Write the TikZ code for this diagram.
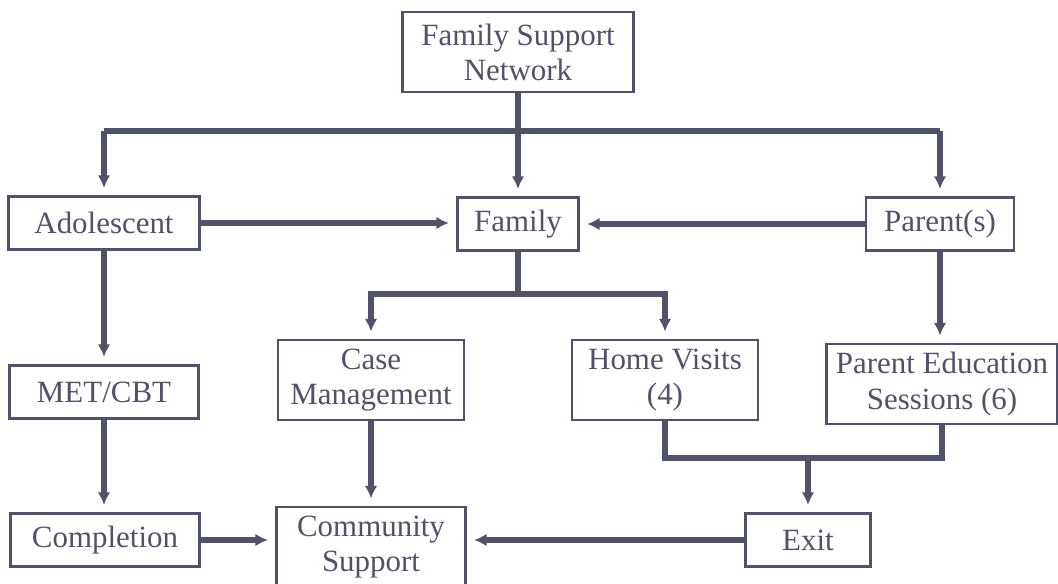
\documentclass[tikz,border=0pt]{standalone}
\usepackage{fontspec}
\setmainfont{Liberation Serif}
\usepackage{tikz}
\usetikzlibrary{arrows.meta, positioning}
\definecolor{ink}{RGB}{80,82,105}
\tikzstyle{staterect}=[shape=rectangle,draw=ink,line width=2pt,fill=white,text=ink,align=center,inner sep=4pt,font=\fontsize{22}{25}\selectfont]
\tikzstyle{onebox}=[staterect,minimum height=1.33cm]
\tikzstyle{twobox}=[staterect,minimum height=2cm]
\tikzstyle{mainline}=[draw=ink,line width=4pt]
\tikzstyle{mainedge}=[mainline,-{Latex[length=9pt,width=9pt]},shorten >=5pt]

\begin{document}
\begin{tikzpicture}
\useasboundingbox (0,0) rectangle (26.45,-14.575);
% top
\node[twobox,minimum width=5.78cm] (net) at (12.95,-1.3) {Family Support\\Network};
% 2nd row
\node[onebox,minimum width=4.78cm] (adol) at (2.6,-5.575) {Adolescent};
\node[onebox,minimum width=3.03cm] (fam) at (12.95,-5.6) {Family};
\node[onebox,minimum width=3.7cm] (par) at (23.5,-5.6) {Parent(s)};
% 3rd row
\node[onebox,minimum width=4.73cm] (met) at (2.6,-9.8) {MET/CBT};
\node[twobox,minimum width=4.65cm] (case) at (9.275,-9.5) {Case\\Management};
\node[twobox,minimum width=4.65cm] (home) at (16.625,-9.5) {Home Visits\\(4)};
\node[twobox,minimum width=5.78cm,inner sep=2pt] (pes) at (23.55,-9.6) {Parent Education\\Sessions (6)};
% bottom row
\node[onebox,minimum width=4.73cm] (comp) at (2.625,-13.5) {Completion};
\node[twobox,minimum width=4.73cm] (comm) at (9.275,-13.675) {Community\\Support};
\node[onebox,minimum width=3.13cm] (exit) at (20.2,-13.5) {Exit};

% connectors
\coordinate (barl) at (2.6,-3.275);
\coordinate (barr) at (23.5,-3.275);
\coordinate (split) at (12.95,-7.35);
\coordinate (merge) at (20.2,-11.45);
\draw[mainline] (barl) -- (barr);
\draw[mainedge] (net.south) -- (fam.north);
\draw[mainedge] (barl) -- (adol.north);
\draw[mainedge] (barr) -- (par.north);
\draw[mainedge] (adol.east) -- (adol.east -| fam.west);
\draw[mainedge] (par.west) -- (par.west -| fam.east);
\draw[mainline] (fam.south) -- (split);
\draw[mainedge] (split) -| (case.north);
\draw[mainedge] (split) -| (home.north);
\draw[mainedge] (par.south) -- (par.south |- pes.north);
\draw[mainedge] (adol.south) -- (adol.south |- met.north);
\draw[mainedge] (met.south) -- (met.south |- comp.north);
\draw[mainedge] (case.south) -- (comm.north);
\draw[mainline] (home.south) |- (merge) -| (pes.south);
\draw[mainedge] (merge) -- (exit.north);
\draw[mainedge] (comp.east) -- (comp.east -| comm.west);
\draw[mainedge] (exit.west) -- (exit.west -| comm.east);

\end{tikzpicture}
\end{document}
